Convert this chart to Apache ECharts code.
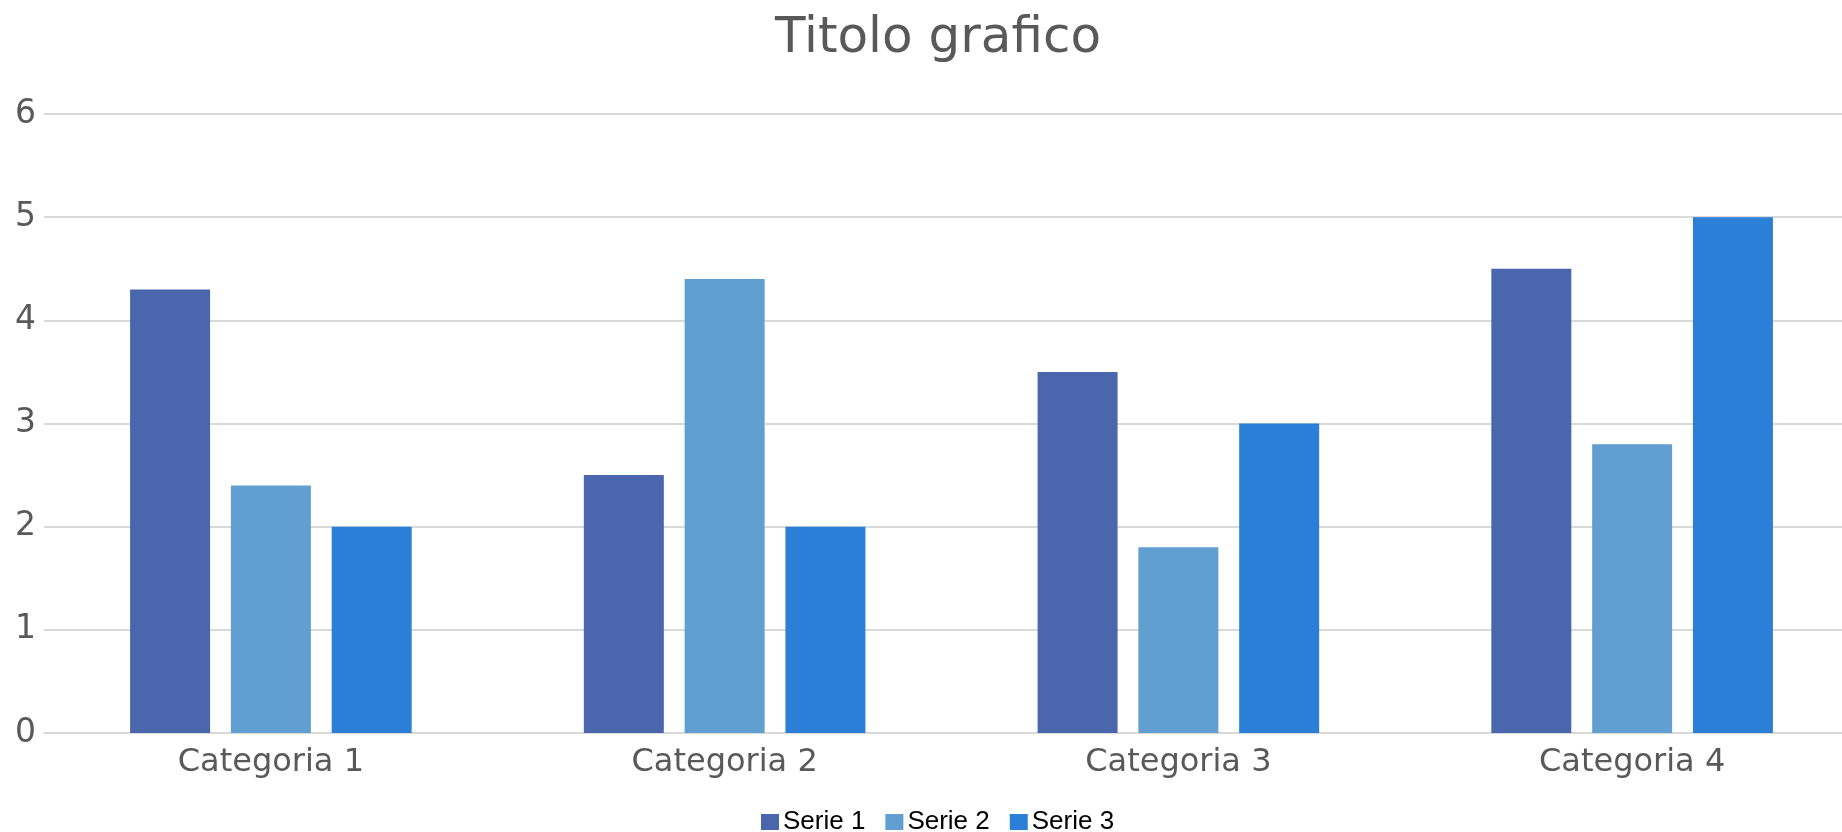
<!DOCTYPE html>
<html>
<head>
<meta charset="utf-8">
<title>Titolo grafico</title>
<script src="https://cdn.jsdelivr.net/npm/echarts@6/dist/echarts.min.js"></script>
<style>
  html, body { margin: 0; padding: 0; background: #ffffff; }
  #chart { width: 1842px; height: 832px; }
</style>
</head>
<body>
<div id="chart"></div>
<script>
// Chart data
const categories = ['Categoria 1', 'Categoria 2', 'Categoria 3', 'Categoria 4'];
const seriesNames = ['Serie 1', 'Serie 2', 'Serie 3'];
const serie1 = [4.3, 2.5, 3.5, 4.5];
const serie2 = [2.4, 4.4, 1.8, 2.8];
const serie3 = [2, 2, 3, 5];
const yTicks = { min: 0, max: 6, interval: 1 };

const colors = ['#4A66AC', '#629FD1', '#2B7FD7'];
const labelFont = 'DejaVu Sans';

const chart = echarts.init(document.getElementById('chart'), null, { renderer: 'canvas' });

const barSeries = [serie1, serie2, serie3].map((values, i) => ({
  name: seriesNames[i],
  type: 'bar',
  data: values,
  barWidth: 80,
  barGap: '26%',
  itemStyle: { color: colors[i] },
  emphasis: { disabled: true }
}));

chart.setOption({
  animation: false,
  color: colors,
  title: {
    text: 'Titolo grafico',
    left: 933,
    top: 9,
    textAlign: 'center',
    textStyle: {
      fontFamily: labelFont,
      fontSize: 50,
      fontWeight: 'normal',
      color: '#595959'
    }
  },
  legend: {
    data: seriesNames,
    left: 761,
    top: 809,
    padding: 0,
    itemWidth: 18,
    itemHeight: 16,
    itemGap: 20,
    icon: 'rect',
    textStyle: {
      fontFamily: 'Liberation Sans',
      fontSize: 26,
      color: '#000000',
      padding: [0, 0, 0, -1]
    }
  },
  // the plot area runs a little past the right edge of the canvas
  grid: {
    left: 44,
    right: -17,
    top: 114,
    bottom: 99,
    containLabel: false,
    outerBoundsMode: 'none'
  },
  xAxis: {
    type: 'category',
    data: categories,
    axisLine: { show: true, lineStyle: { color: '#D9D9D9', width: 2 } },
    axisTick: { show: false },
    axisLabel: {
      fontFamily: labelFont,
      fontSize: 32,
      color: '#595959',
      margin: 14
    }
  },
  yAxis: {
    type: 'value',
    min: yTicks.min,
    max: yTicks.max,
    interval: yTicks.interval,
    axisLine: { show: false },
    axisTick: { show: false },
    splitLine: { lineStyle: { color: '#D9D9D9', width: 2 } },
    axisLabel: {
      fontFamily: labelFont,
      fontSize: 33,
      color: '#595959',
      margin: 8
    }
  },
  series: barSeries
});
</script>
</body>
</html>
